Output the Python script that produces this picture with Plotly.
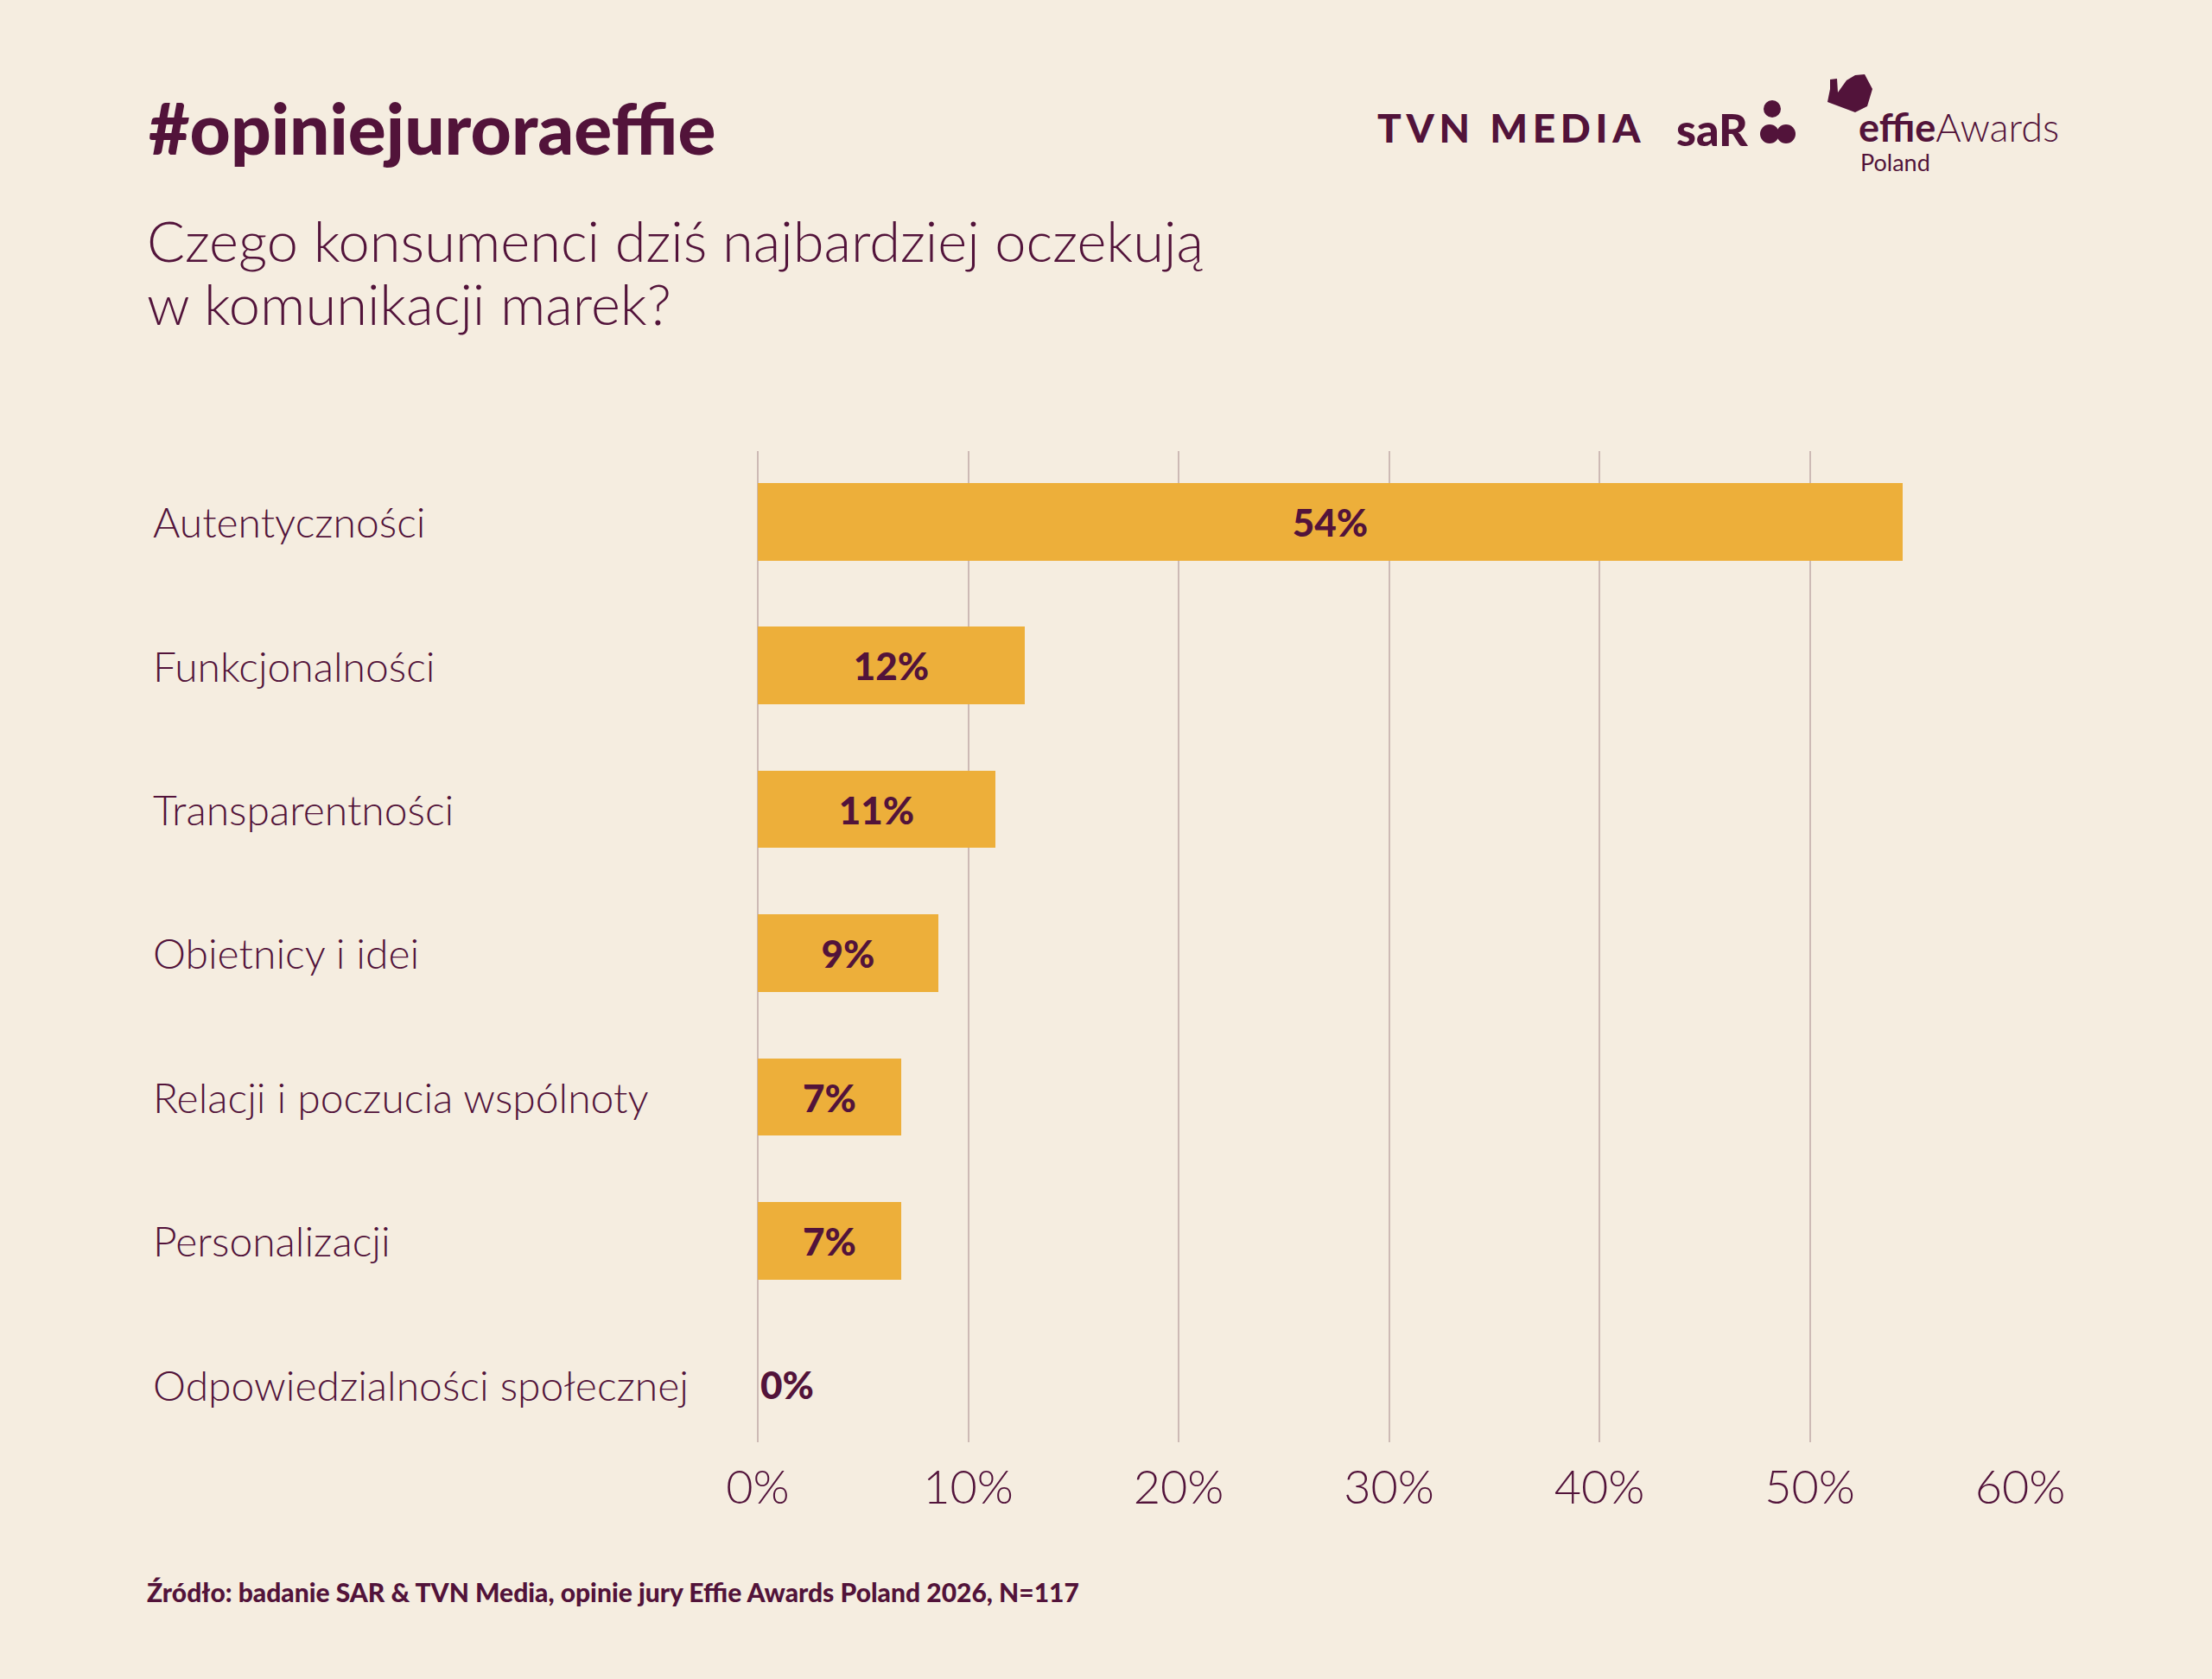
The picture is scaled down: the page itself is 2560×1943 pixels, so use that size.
import plotly.graph_objects as go

# values (share of jury answers, %)
CATEGORIES = [
    "Autentyczności",
    "Funkcjonalności",
    "Transparentności",
    "Obietnicy i idei",
    "Relacji i poczucia wspólnoty",
    "Personalizacji",
    "Odpowiedzialności społecznej",
]
VALUES = [54.4, 12.7, 11.3, 8.6, 6.8, 6.8, 0.0]
VALUE_LABELS = ["54%", "12%", "11%", "9%", "7%", "7%", "0%"]
X_TICKS = [0, 10, 20, 30, 40, 50, 60]

TITLE = "#opiniejuroraeffie"
SUBTITLE_LINES = ["Czego konsumenci dziś najbardziej oczekują", "w komunikacji marek?"]
SOURCE = "Źródło: badanie SAR & TVN Media, opinie jury Effie Awards Poland 2026, N=117"

BG = "#F5EDE0"
INK = "#52133A"
BAR = "#EDAF3A"
GRID = "#CDBAB5"
FONT = "Lato, 'Open Sans', sans-serif"

W, H = 2560, 1943
L, R, T, B = 877, 2338, 522, 1669  # plot area in pixels


def px(x):
    return (x - L) / (R - L)


def py(y):
    return (B - y) / (B - T)


fig = go.Figure(
    go.Bar(
        x=VALUES,
        y=CATEGORIES,
        orientation="h",
        width=0.54,
        marker=dict(color=BAR, line=dict(width=0)),
        text=VALUE_LABELS,
        textposition=["inside"] * 6 + ["outside"],
        insidetextanchor="middle",
        textangle=0,
        constraintext="none",
        cliponaxis=False,
        textfont=dict(family=FONT, size=44, color=INK, weight=900),
        hoverinfo="skip",
    )
)

annotations = []
for cat in CATEGORIES:
    annotations.append(dict(
        x=px(175), xref="paper", y=cat, yref="y", text=cat, showarrow=False,
        xanchor="left", yanchor="middle",
        font=dict(family=FONT, size=48, color=INK, weight=300),
    ))

annotations.append(dict(
    x=px(170), xref="paper", y=py(147), yref="paper", text=TITLE, showarrow=False,
    xanchor="left", yanchor="middle",
    font=dict(family=FONT, size=82, color=INK, weight=900),
))
for line, yc in zip(SUBTITLE_LINES, [278, 351]):
    annotations.append(dict(
        x=px(168), xref="paper", y=py(yc), yref="paper", text=line, showarrow=False,
        xanchor="left", yanchor="middle",
        font=dict(family=FONT, size=65, color=INK, weight=300),
    ))
annotations.append(dict(
    x=px(168), xref="paper", y=py(1842), yref="paper", text=SOURCE, showarrow=False,
    xanchor="left", yanchor="middle",
    font=dict(family=FONT, size=30, color=INK, weight=900),
))

# logos
annotations += [
    dict(x=px(1592), xref="paper", y=py(147), yref="paper",
         text="T\u2009V\u2009N\u2002M\u2009E\u2009D\u2009I\u2009A", showarrow=False,
         xanchor="left", yanchor="middle",
         font=dict(family=FONT, size=46, color=INK, weight=900)),
    dict(x=px(1938), xref="paper", y=py(149), yref="paper", text="saR", showarrow=False,
         xanchor="left", yanchor="middle",
         font=dict(family=FONT, size=52, color=INK, weight=900)),
    dict(x=px(2150), xref="paper", y=py(175), yref="paper",
         text="<b>effie</b><span style='font-weight:300'>Awards</span>", showarrow=False,
         xanchor="left", yanchor="bottom", borderpad=0,
         font=dict(family=FONT, size=45, color=INK)),
    dict(x=px(2152), xref="paper", y=py(170), yref="paper", text="Poland", showarrow=False,
         xanchor="left", yanchor="top", borderpad=0,
         font=dict(family=FONT, size=27, color=INK)),
]

shapes = []
for cx, cy, r in [(2051, 126, 10), (2048, 155, 11), (2067, 155, 11)]:
    shapes.append(dict(type="circle", xref="paper", yref="paper",
                       x0=px(cx - r), x1=px(cx + r), y0=py(cy + r), y1=py(cy - r),
                       fillcolor=INK, line=dict(width=0)))

hand = [(2118, 92), (2126, 91), (2127, 107), (2137, 93), (2147, 87), (2158, 86),
        (2167, 103), (2161, 123), (2147, 130), (2115, 118), (2118, 103)]
path = "M " + " L ".join(f"{px(x):.5f},{py(y):.5f}" for x, y in hand) + " Z"
shapes.append(dict(type="path", xref="paper", yref="paper", path=path,
                   fillcolor=INK, line=dict(width=0)))

fig.update_layout(
    width=W, height=H,
    margin=dict(l=L, r=W - R, t=T, b=H - B, pad=0),
    paper_bgcolor=BG, plot_bgcolor=BG,
    showlegend=False,
    bargap=0,
    annotations=annotations,
    shapes=shapes,
    xaxis=dict(
        range=[0, 60], tickvals=X_TICKS, ticktext=[f"{t}%" for t in X_TICKS],
        showgrid=True, gridcolor=GRID, gridwidth=2,
        zeroline=True, zerolinecolor=GRID, zerolinewidth=2,
        showline=False, ticks="", ticklabelstandoff=16,
        tickfont=dict(family=FONT, size=54, color=INK, weight=300),
        fixedrange=True,
    ),
    yaxis=dict(
        type="category", categoryorder="array", categoryarray=CATEGORIES,
        range=[6.40, -0.49], showticklabels=False, showgrid=False,
        zeroline=False, showline=False, ticks="", fixedrange=True,
    ),
)

# drop the browser's default body margin so the figure sits at the page corner
fig.write_html(
    "out.html",
    config={"displayModeBar": False},
    post_script="document.body.style.margin='0';"
                "document.body.style.background='" + BG + "';",
)
